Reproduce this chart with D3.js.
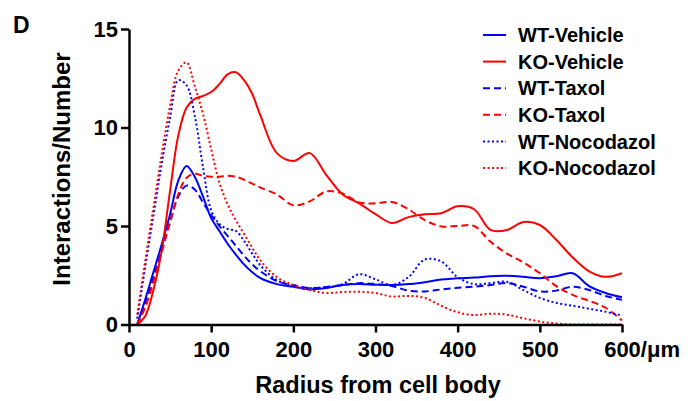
<!DOCTYPE html>
<html>
<head>
<meta charset="utf-8">
<script src="https://cdn.jsdelivr.net/npm/d3@7"></script>
<style>
  body { margin: 0; background: #fff; }
  text { font-family: "Liberation Sans", Arial, sans-serif; font-weight: bold; }
</style>
</head>
<body>
<div id="chart"></div>
<script>
// Data (radius in µm, interactions number)
const radius = [10, 20, 30, 40, 50, 60, 70, 80, 90, 100, 110, 120, 130, 140, 150, 160,
  180, 200, 220, 240, 260, 280, 300, 320, 340, 360, 380, 400, 420, 440, 460, 480, 500, 520, 540, 560, 580, 600];

const wtVehicle = [0, 1.3, 2.7, 4.1, 5.6, 7.3, 8.05, 7.5, 6.5, 5.4, 4.75, 4.1, 3.55, 3.05, 2.65, 2.35,
  2.05, 1.92, 1.78, 1.85, 2.0, 2.05, 2.02, 2.0, 2.05, 2.15, 2.28, 2.35, 2.38, 2.45, 2.47, 2.42, 2.35, 2.45, 2.6, 1.95, 1.6, 1.38];
const koVehicle = [0, 0.45, 1.8, 3.8, 6.8, 9.6, 11.0, 11.45, 11.6, 11.8, 12.2, 12.7, 12.8, 12.4, 11.7, 10.6,
  8.7, 8.3, 8.7, 7.6, 6.6, 6.15, 5.6, 5.15, 5.45, 5.6, 5.65, 6.0, 5.85, 4.8, 4.8, 5.2, 5.05, 4.3, 3.4, 2.7, 2.42, 2.6];
const wtTaxol = [0, 1.1, 2.4, 3.8, 5.2, 6.5, 7.05, 6.85, 6.2, 5.55, 5.0, 4.5, 4.0, 3.5, 3.05, 2.7,
  2.2, 2.0, 1.85, 1.9, 2.0, 2.1, 2.05, 1.95, 1.72, 1.68, 1.78, 1.86, 1.92, 2.0, 2.1, 1.92, 1.68, 1.72, 1.92, 1.75, 1.45, 1.25];
const koTaxol = [0, 0.9, 2.2, 3.7, 5.2, 6.6, 7.45, 7.65, 7.55, 7.5, 7.5, 7.55, 7.5, 7.35, 7.15, 6.95,
  6.6, 6.05, 6.25, 6.75, 6.65, 6.2, 6.15, 6.22, 5.85, 5.3, 4.98, 5.0, 5.0, 4.2, 3.6, 3.15, 2.6, 1.95, 1.5, 1.2, 0.85, 0.2];
const wtNocodazol = [0.3, 3.0, 5.6, 8.2, 10.5, 12.4, 12.15, 10.6, 8.0, 5.8, 5.1, 4.85, 4.75, 4.25, 3.6, 3.0,
  2.25, 1.95, 1.85, 1.9, 2.05, 2.55, 2.3, 2.0, 2.4, 3.3, 3.2, 2.4, 2.05, 2.1, 2.17, 1.75, 1.35, 1.1, 0.95, 0.8, 0.65, 0.45];
const koNocodazol = [0.5, 3.3, 6.0, 8.7, 11.1, 12.9, 13.3, 12.1, 10.7, 8.9, 7.2, 6.1, 5.3, 4.6, 3.9, 3.25,
  2.4, 2.0, 1.75, 1.6, 1.65, 1.66, 1.6, 1.42, 1.45, 1.35, 0.95, 0.62, 0.48, 0.55, 0.5, 0.32, 0.15, 0.05, 0, 0, 0, 0];

const seriesNames = ["WT-Vehicle", "KO-Vehicle", "WT-Taxol", "KO-Taxol", "WT-Nocodazol", "KO-Nocodazol"];
const seriesValues = [wtVehicle, koVehicle, wtTaxol, koTaxol, wtNocodazol, koNocodazol];
const seriesColors = ["#0000ff", "#ff0000", "#0000ff", "#ff0000", "#0000ff", "#ff0000"];
const seriesDash = [null, null, "7,4", "7,4", "2,2.5", "2,2.5"];

const xTicks = [0, 100, 200, 300, 400, 500, 600];
const yTicks = [0, 5, 10, 15];

// Chart dimensions
const W = 691, H = 401;
const margin = { top: 29, right: 69, bottom: 76.5, left: 129 };
const width = W - margin.left - margin.right;
const height = H - margin.top - margin.bottom;

const svg = d3.select("#chart").append("svg")
  .attr("width", W)
  .attr("height", H);

svg.append("rect").attr("width", W).attr("height", H).attr("fill", "#fff");

const g = svg.append("g")
  .attr("transform", "translate(" + margin.left + "," + margin.top + ")");

const x = d3.scaleLinear().domain([0, 600]).range([0, width]);
const y = d3.scaleLinear().domain([0, 15]).range([height, 0]);

// Lines
const line = d3.line()
  .x((d, i) => x(radius[i]))
  .y(d => y(d))
  .curve(d3.curveCatmullRom.alpha(0.5));

g.selectAll(".series")
  .data(seriesValues)
  .enter().append("path")
  .attr("class", "series")
  .attr("d", d => line(d))
  .attr("fill", "none")
  .attr("stroke", (d, i) => seriesColors[i])
  .attr("stroke-width", 2)
  .attr("stroke-dasharray", (d, i) => seriesDash[i]);

// Axes
const xAxis = d3.axisBottom(x).tickValues(xTicks).tickSize(8).tickPadding(9).tickSizeOuter(0);
const yAxis = d3.axisLeft(y).tickValues(yTicks).tickSize(8).tickPadding(3).tickSizeOuter(0);

const gx = g.append("g")
  .attr("transform", "translate(0," + height + ")")
  .call(xAxis);

const gy = g.append("g").call(yAxis);

[gx, gy].forEach(a => {
  a.select(".domain").attr("stroke", "#000").attr("stroke-width", 2.5);
  a.selectAll(".tick line").attr("stroke", "#000").attr("stroke-width", 2.5);
  a.selectAll(".tick text")
    .attr("fill", "#000")
    .style("font-size", "22px");
});

// "600/µm" label: keep "600" centred on its tick
gx.selectAll(".tick text")
  .filter(d => d === 600)
  .each(function () {
    const t = d3.select(this);
    const w = this.getComputedTextLength();
    t.attr("text-anchor", "start").attr("x", -w / 2).text("600/\u03bcm");
  });

// Axis titles
svg.append("text")
  .attr("x", 378)
  .attr("y", 393)
  .attr("text-anchor", "middle")
  .style("font-size", "23.5px")
  .text("Radius from cell body");

svg.append("text")
  .attr("transform", "translate(70,169) rotate(-90)")
  .attr("text-anchor", "middle")
  .style("font-size", "24px")
  .text("Interactions/Number");

// Panel letter
svg.append("text")
  .attr("x", 13)
  .attr("y", 33)
  .style("font-size", "23px")
  .text("D");

// Legend
const legend = svg.append("g").attr("transform", "translate(483,35)");
const rows = legend.selectAll(".row")
  .data(seriesNames)
  .enter().append("g")
  .attr("class", "row")
  .attr("transform", (d, i) => "translate(0," + (i * 26.6) + ")");

rows.append("line")
  .attr("x1", 0).attr("x2", 23)
  .attr("y1", 0).attr("y2", 0)
  .attr("stroke", (d, i) => seriesColors[i])
  .attr("stroke-width", 2)
  .attr("stroke-dasharray", (d, i) => seriesDash[i]);

rows.append("text")
  .attr("x", 35)
  .attr("dy", "0.36em")
  .style("font-size", "20px")
  .text(d => d);
</script>
</body>
</html>
